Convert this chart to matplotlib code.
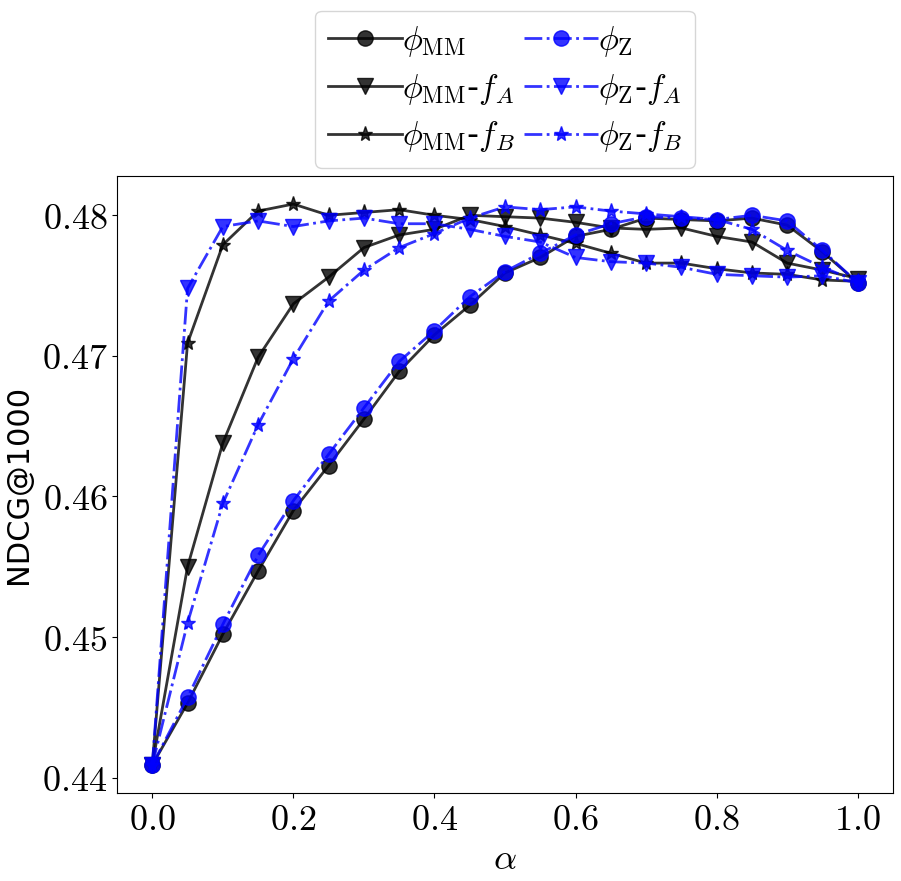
import matplotlib
matplotlib.use("Agg")
import matplotlib.pyplot as plt
from matplotlib.ticker import FuncFormatter

plt.rcParams['mathtext.fontset'] = 'cm'

alpha = [0.0, 0.05, 0.1, 0.15, 0.2, 0.25, 0.3, 0.35, 0.4, 0.45, 0.5,
         0.55, 0.6, 0.65, 0.7, 0.75, 0.8, 0.85, 0.9, 0.95, 1.0]

mm = [0.4409, 0.4453, 0.4502, 0.4547, 0.4590, 0.4622, 0.4655, 0.4689, 0.4715, 0.4736, 0.4759,
      0.4770, 0.4785, 0.4790, 0.4798, 0.4797, 0.4796, 0.4798, 0.4793, 0.4774, 0.4752]
z = [0.4409, 0.4457, 0.4509, 0.4558, 0.4597, 0.4630, 0.4663, 0.4696, 0.4718, 0.4742, 0.4760,
     0.4773, 0.4786, 0.4794, 0.4799, 0.4798, 0.4797, 0.4800, 0.4796, 0.4775, 0.4752]
mm_fa = [0.4409, 0.4550, 0.4638, 0.4699, 0.4737, 0.4756, 0.4777, 0.4786, 0.4790, 0.4800, 0.4799,
         0.4798, 0.4795, 0.4791, 0.4790, 0.4791, 0.4785, 0.4781, 0.4766, 0.4761, 0.4755]
z_fa = [0.4409, 0.4748, 0.4792, 0.4796, 0.4792, 0.4796, 0.4798, 0.4794, 0.4794, 0.4790, 0.4785,
        0.4781, 0.4770, 0.4767, 0.4766, 0.4763, 0.4758, 0.4757, 0.4756, 0.4757, 0.4752]
mm_fb = [0.4409, 0.4709, 0.4779, 0.4803, 0.4808, 0.4800, 0.4802, 0.4804, 0.4800, 0.4797, 0.4792,
         0.4786, 0.4780, 0.4773, 0.4766, 0.4766, 0.4762, 0.4759, 0.4758, 0.4754, 0.4753]
z_fb = [0.4409, 0.4510, 0.4595, 0.4651, 0.4698, 0.4739, 0.4761, 0.4777, 0.4787, 0.4798, 0.4806,
        0.4804, 0.4806, 0.4803, 0.4801, 0.4799, 0.4797, 0.4790, 0.4775, 0.4763, 0.4753]

labels = [r'$\phi_{\mathrm{MM}}$', r'$\phi_{\mathrm{MM}}$-$f_A$', r'$\phi_{\mathrm{MM}}$-$f_B$',
          r'$\phi_{\mathrm{Z}}$', r'$\phi_{\mathrm{Z}}$-$f_A$', r'$\phi_{\mathrm{Z}}$-$f_B$']

fig = plt.figure(figsize=(9.01, 8.81), dpi=100)
ax = fig.add_axes([117/901, 1-793/881, (893-117)/901, (793-176)/881])

kw = dict(lw=2, markersize=11, alpha=0.8)
ax.plot(alpha, mm, color='k', ls='-', marker='o', label=labels[0], **kw)
ax.plot(alpha, mm_fa, color='k', ls='-', marker='v', label=labels[1], **kw)
ax.plot(alpha, mm_fb, color='k', ls='-', marker='*', label=labels[2], **kw)
ax.plot(alpha, z, color='b', ls='-.', marker='o', label=labels[3], **kw)
ax.plot(alpha, z_fa, color='b', ls='-.', marker='v', label=labels[4], **kw)
ax.plot(alpha, z_fb, color='b', ls='-.', marker='*', label=labels[5], **kw)

ax.set_xticks([0.0, 0.2, 0.4, 0.6, 0.8, 1.0])
ax.set_yticks([0.44, 0.45, 0.46, 0.47, 0.48])
ax.xaxis.set_major_formatter(FuncFormatter(lambda v, p: r'$%.1f$' % v))
ax.yaxis.set_major_formatter(FuncFormatter(lambda v, p: r'$%.2f$' % v))
ax.tick_params(labelsize=26)
ax.set_xlabel(r'$\alpha$', fontsize=26)
ax.set_ylabel('NDCG@1000', fontsize=22, labelpad=6)

ax.legend(loc='lower center', bbox_to_anchor=(0.5, 1.0), ncol=2, fontsize=24,
          borderaxespad=0.25, handlelength=2.2, columnspacing=0.3, labelspacing=0.38,
          handletextpad=0.0)

fig.savefig('out.png', dpi=100)
